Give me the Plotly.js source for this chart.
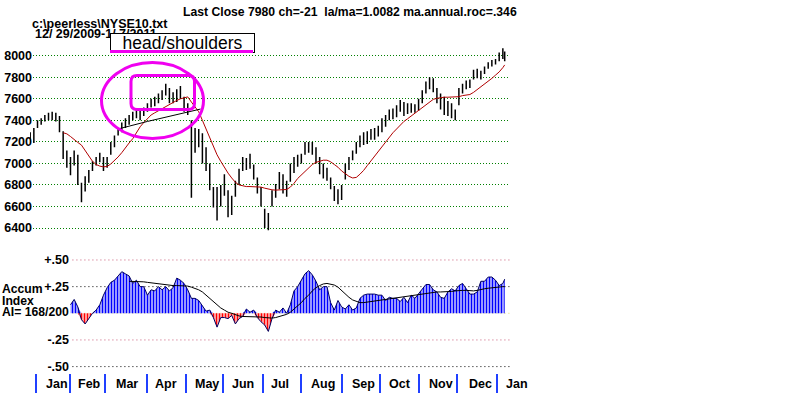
<!DOCTYPE html>
<html><head><meta charset="utf-8">
<script src="https://cdn.plot.ly/plotly-3.0.1.min.js"></script>
<style>html,body{margin:0;padding:0;background:#fff;} #chart{width:798px;height:393px;}</style>
</head><body><div id="chart"></div>
<script>
// ---------- DATA (every 2nd trading day) ----------
const dates = ['2009-12-29','2009-12-31','2010-01-05','2010-01-07','2010-01-11','2010-01-13','2010-01-15','2010-01-20','2010-01-22','2010-01-26',
'2010-01-28','2010-02-01','2010-02-03','2010-02-05','2010-02-09','2010-02-11','2010-02-16','2010-02-18','2010-02-22','2010-02-24',
'2010-02-26','2010-03-02','2010-03-04','2010-03-08','2010-03-10','2010-03-12','2010-03-16','2010-03-18','2010-03-22','2010-03-24',
'2010-03-26','2010-03-30','2010-04-01','2010-04-06','2010-04-08','2010-04-12','2010-04-14','2010-04-16','2010-04-20','2010-04-22',
'2010-04-26','2010-04-28','2010-04-30','2010-05-04','2010-05-06','2010-05-10','2010-05-12','2010-05-14','2010-05-18','2010-05-20',
'2010-05-24','2010-05-26','2010-05-28','2010-06-02','2010-06-04','2010-06-08','2010-06-10','2010-06-14','2010-06-16','2010-06-18',
'2010-06-22','2010-06-24','2010-06-28','2010-06-30','2010-07-02','2010-07-07','2010-07-09','2010-07-13','2010-07-15','2010-07-19',
'2010-07-21','2010-07-23','2010-07-27','2010-07-29','2010-08-02','2010-08-04','2010-08-06','2010-08-10','2010-08-12','2010-08-16',
'2010-08-18','2010-08-20','2010-08-24','2010-08-26','2010-08-30','2010-09-01','2010-09-03','2010-09-08','2010-09-10','2010-09-14',
'2010-09-16','2010-09-20','2010-09-22','2010-09-24','2010-09-28','2010-09-30','2010-10-04','2010-10-06','2010-10-08','2010-10-12',
'2010-10-14','2010-10-18','2010-10-20','2010-10-22','2010-10-26','2010-10-28','2010-11-01','2010-11-03','2010-11-05','2010-11-09',
'2010-11-11','2010-11-15','2010-11-17','2010-11-19','2010-11-23','2010-11-26','2010-11-30','2010-12-02','2010-12-06','2010-12-08',
'2010-12-10','2010-12-14','2010-12-16','2010-12-20','2010-12-22','2010-12-27','2010-12-29','2010-12-31','2011-01-04','2011-01-06',
'2011-01-07'];

const high = [7290,7330,7400,7420,7450,7470,7480,7470,7440,7300,
7120,7060,7120,7080,6820,6880,6940,7020,7060,7100,
7060,7060,7200,7260,7320,7380,7420,7450,7480,7500,
7490,7520,7560,7600,7620,7650,7680,7740,7700,7660,
7690,7720,7620,7560,7400,7330,7320,7280,7150,7000,
6780,6780,6800,6900,6750,6700,6840,6950,7060,7050,
7090,6990,6870,6780,6580,6540,6750,6810,6920,6900,
6840,7000,7060,7080,7090,7200,7200,7200,7150,7060,
7000,6960,6870,6790,6760,6800,7000,7060,7120,7200,
7260,7290,7300,7320,7330,7350,7420,7450,7500,7510,
7540,7590,7570,7560,7560,7550,7600,7680,7760,7800,
7790,7700,7650,7620,7580,7560,7500,7700,7740,7770,
7780,7870,7880,7860,7900,7940,7960,7970,8030,8070,
8040];

const low = [7190,7190,7330,7360,7390,7400,7400,7390,7290,7040,
6960,6890,6980,6800,6640,6740,6820,6930,6980,7010,
6930,6960,7080,7150,7260,7290,7330,7360,7400,7420,
7400,7440,7480,7520,7530,7560,7590,7630,7560,7560,
7570,7600,7480,7450,6680,7100,7150,7000,6930,6750,
6590,6470,6600,6700,6500,6520,6690,6800,6930,6940,
6950,6850,6720,6600,6400,6380,6600,6680,6760,6720,
6690,6830,6910,6970,7000,7080,7100,7080,7000,6900,
6860,6840,6760,6650,6620,6660,6850,6940,7030,7090,
7150,7170,7180,7220,7220,7250,7290,7340,7400,7410,
7430,7480,7440,7460,7470,7470,7490,7560,7650,7690,
7660,7560,7500,7450,7440,7420,7400,7540,7650,7690,
7700,7780,7790,7780,7830,7880,7900,7920,7950,7970,
7950];

const close = [7230,7300,7380,7400,7430,7450,7420,7440,7300,7080,
7000,6920,7080,6830,6760,6850,6900,7000,7040,7050,
6980,7040,7180,7240,7300,7350,7400,7420,7460,7470,
7460,7500,7540,7580,7600,7620,7650,7700,7580,7640,
7660,7620,7500,7470,7000,7280,7200,7050,6980,6800,
6650,6700,6780,6850,6560,6650,6800,6920,7020,7000,
7050,6880,6760,6620,6450,6500,6720,6780,6880,6780,
6800,6960,7040,7060,7070,7180,7180,7150,7020,6940,
6900,6880,6800,6700,6680,6760,6960,7020,7100,7160,
7220,7250,7260,7290,7280,7300,7400,7430,7470,7490,
7500,7560,7500,7520,7540,7520,7560,7650,7720,7760,
7700,7600,7560,7500,7540,7450,7430,7680,7720,7740,
7760,7850,7830,7840,7880,7920,7940,7950,8010,8040,
7980];

const priceMA = [null,null,null,null,null,null,null,null,null,
7285,7275,7250,7220,7195,7170,7120,7060,7020,6990,
6975,6968,6972,6995,7025,7060,7100,7150,7190,7230,
7290,7340,7380,7420,7450,7470,7490,7510,7530,7550,
7570,7585,7600,7612,7618,7570,7520,7480,7400,7320,
7230,7150,7080,7020,6960,6910,6865,6825,6800,6790,
6785,6785,6785,6785,6780,6770,6760,6755,6752,6752,
6755,6758,6780,6815,6860,6895,6925,6960,6990,7010,
7020,7030,7030,7015,6990,6965,6930,6905,6880,6865,
6870,6900,6935,6980,7025,7065,7110,7160,7205,7245,
7285,7320,7360,7390,7415,7440,7465,7490,7515,7540,
7570,7595,7605,7612,7615,7615,7615,7615,7620,7630,
7635,7640,7660,7685,7710,7735,7760,7790,7820,7850,
7890,7915];

// accumulation index, from 2010-02-01 (index 11 of dates) onward
const accum = [0.08,0.13,0.06,-0.06,-0.10,-0.05,0.00,0.03,0.08,0.17,
0.24,0.29,0.31,0.35,0.39,0.37,0.35,0.28,0.31,0.25,
0.25,0.17,0.22,0.21,0.25,0.22,0.25,0.21,0.24,0.33,
0.31,0.28,0.22,0.14,0.14,0.12,0.07,0.02,0.03,-0.04,
-0.13,-0.04,-0.04,-0.05,-0.02,-0.10,-0.05,-0.03,0.04,0.01,
0.03,-0.04,-0.08,-0.11,-0.17,-0.05,0.03,0.01,0.05,0.00,
0.08,0.21,0.25,0.31,0.37,0.40,0.36,0.30,0.22,0.25,
0.25,0.10,0.03,0.12,0.06,0.04,0.08,0.03,0.05,0.14,
0.17,0.18,0.18,0.18,0.17,0.17,0.12,0.15,0.14,0.14,
0.11,0.15,0.10,0.17,0.14,0.18,0.23,0.27,0.27,0.22,
0.20,0.15,0.14,0.20,0.23,0.21,0.26,0.28,0.23,0.18,
0.18,0.20,0.30,0.30,0.34,0.34,0.31,0.26,0.28,0.32];

const accumMA = [null,null,null,null,null,null,null,null,null,null,null,null,null,null,null,null,
0.30,0.30,0.30,0.30,0.295,0.29,0.285,0.28,0.275,0.27,
0.265,0.26,0.26,0.26,0.26,0.26,0.255,0.245,0.235,0.22,
0.20,0.17,0.145,0.115,0.08,0.05,0.03,0.01,0.0,-0.015,
-0.025,-0.03,-0.03,-0.03,-0.03,-0.03,-0.035,-0.04,-0.045,-0.045,
-0.04,-0.03,-0.02,-0.01,0.01,0.04,0.065,0.10,0.14,0.17,
0.21,0.24,0.26,0.275,0.28,0.275,0.265,0.245,0.21,0.18,
0.15,0.125,0.11,0.10,0.10,0.105,0.11,0.12,0.125,0.13,
0.135,0.14,0.145,0.15,0.155,0.16,0.16,0.165,0.17,0.175,
0.18,0.185,0.195,0.20,0.20,0.20,0.20,0.20,0.205,0.21,
0.215,0.215,0.215,0.21,0.21,0.215,0.225,0.23,0.235,0.24,
0.245,0.25,0.25,0.25];

const holidays = ['2010-01-01','2010-01-18','2010-02-15','2010-04-02','2010-05-31','2010-07-05','2010-09-06','2010-11-25','2010-12-24'];
const priceTicks = [6400,6600,6800,7000,7200,7400,7600,7800,8000];
const accumTicks = [0.5,0.25,-0.25,-0.5];
const accumTickText = ['+.50','+.25','-.25','-.50'];
const monthStarts = ['2010-01-04','2010-02-01','2010-03-01','2010-04-01','2010-05-03','2010-06-01','2010-07-01','2010-08-02','2010-09-01','2010-10-01','2010-11-01','2010-12-01','2011-01-03'];
const monthLabels = ['Jan','Feb','Mar','Apr','May','Jun','Jul','Aug','Sep','Oct','Nov','Dec','Jan'];
const monthLabelAt = ['2010-01-20T12:00','2010-02-16T10:00','2010-03-17','2010-04-16','2010-05-18T12:00','2010-06-16','2010-07-15T14:00','2010-08-17T14:00','2010-09-17T19:00','2010-10-15T22:00','2010-11-17','2010-12-17T14:00','2011-01-17T17:00'];
const neckX = ['2010-03-10','2010-04-01','2010-05-13'];
const neckY = [7320,7390,7505];

const titleText = 'Last Close 7980 ch=-21\u00a0 la/ma=1.0082 ma.annual.roc=.346';
const fileText = 'c:\\peerless\\NYSE10.txt';
const spanText = '12/ 29/2009-1/ 7/2011';
const boxText = 'head/shoulders';
const accumText = ['Accum','Index','AI= 168/200'];

// ---------- LAYOUT ----------
const W = 798, H = 393, L = 30, R = 288, T = 44.9, B = 19.9;
const PW = W - L - R, PH = H - T - B;
const px = x => (x - L) / PW;          // page px -> paper x
const py = y => (H - B - y) / PH;      // page px -> paper y
const FONT = 'Liberation Sans, Arial, sans-serif';
const boldFont = {family: FONT, size: 12.5, color: '#000', weight: 'bold'};
const breaks = [{bounds: ['sat', 'mon']}, {values: holidays, dvalue: 86400000}];

const accumDates = dates.slice(11);
const accumPos = accum.map(v => v > 0 ? v : 0);
const accumNeg = accum.map(v => v < 0 ? v : 0);

const traces = [
  {type: 'ohlc', x: dates, open: close, high: high, low: low, close: close, xaxis: 'x', yaxis: 'y',
   increasing: {line: {color: '#000', width: 1.5}}, decreasing: {line: {color: '#000', width: 1.5}},
   tickwidth: 0.35, hoverinfo: 'skip'},
  {type: 'scatter', mode: 'lines', x: dates, y: priceMA, xaxis: 'x', yaxis: 'y',
   line: {color: '#b00000', width: 1}, hoverinfo: 'skip'},
  {type: 'scatter', mode: 'lines', x: neckX, y: neckY, xaxis: 'x', yaxis: 'y',
   line: {color: '#000', width: 1}, hoverinfo: 'skip'},
  {type: 'scatter', mode: 'lines', x: accumDates, y: accumPos, xaxis: 'x2', yaxis: 'y2',
   fill: 'tozeroy', fillcolor: 'rgba(0,0,0,0)', line: {width: 0},
   fillpattern: {shape: '|', fgcolor: '#0000ff', bgcolor: '#ffffff', size: 3, solidity: 0.6}, hoverinfo: 'skip'},
  {type: 'scatter', mode: 'lines', x: accumDates, y: accumNeg, xaxis: 'x2', yaxis: 'y2',
   fill: 'tozeroy', fillcolor: 'rgba(0,0,0,0)', line: {width: 0},
   fillpattern: {shape: '|', fgcolor: '#ff0000', bgcolor: '#ffffff', size: 3, solidity: 0.6}, hoverinfo: 'skip'},
  {type: 'scatter', mode: 'lines', x: accumDates, y: accum, xaxis: 'x2', yaxis: 'y2',
   line: {color: '#000060', width: 1}, hoverinfo: 'skip'},
  {type: 'scatter', mode: 'lines', x: accumDates, y: accumMA, xaxis: 'x2', yaxis: 'y2',
   line: {color: '#000', width: 1}, hoverinfo: 'skip'}
];

const xEnd = '2011-01-11T21:36:00';
const shapes = [];
const gridDefs = [[0.5, '#c85a78'], [0.25, '#000000'], [0, '#e0d870'], [-0.25, '#c85a78'], [-0.5, '#000000']];
gridDefs.forEach(([v, c]) => shapes.push({type: 'line', xref: 'x2 domain', yref: 'y2', x0: 0.01, x1: 1, y0: v, y1: v,
  line: {color: c, width: 1, dash: '1px,3px'}, layer: 'below'}));
// magenta ellipse
shapes.push({type: 'circle', xref: 'paper', yref: 'paper', x0: px(101.5), x1: px(203.5), y0: py(138.5), y1: py(62.5),
  line: {color: '#f000f0', width: 3}, layer: 'above'});
// magenta rounded rectangle
(function () {
  const xa = px(131), xb = px(194.5), ya = py(75.5), yb = py(109.5), rx = 6 / PW, ry = 6 / PH;
  const p = `M ${xa + rx},${ya} L ${xb - rx},${ya} Q ${xb},${ya} ${xb},${ya - ry} L ${xb},${yb + ry} Q ${xb},${yb} ${xb - rx},${yb} ` +
            `L ${xa + rx},${yb} Q ${xa},${yb} ${xa},${yb + ry} L ${xa},${ya - ry} Q ${xa},${ya} ${xa + rx},${ya} Z`;
  shapes.push({type: 'path', xref: 'paper', yref: 'paper', path: p, line: {color: '#f000f0', width: 3}, layer: 'above'});
})();

const ann = [];
const txt = (text, x, y, opts) => Object.assign({text, x, y, xref: 'paper', yref: 'paper', showarrow: false,
  xanchor: 'left', yanchor: 'middle', font: boldFont}, opts || {});
ann.push(txt(titleText, px(181), py(12.3), {font: Object.assign({}, boldFont, {size: 12.2})}));
ann.push(txt(fileText, px(29.5), py(24.0)));
ann.push(txt(spanText, px(33), py(33.8)));
ann.push({text: boxText, xref: 'paper', yref: 'paper', x: px(182.5), y: py(43.3), xanchor: 'center', yanchor: 'middle',
  showarrow: false, width: 143, height: 17.5, borderpad: 0, borderwidth: 1, bordercolor: '#000', bgcolor: '#fff',
  font: {family: FONT, size: 17.5, color: '#000'}});
ann.push({text: '\u00a0', xref: 'paper', yref: 'paper', x: px(181.5), y: py(51.7), xanchor: 'center', yanchor: 'middle',
  showarrow: false, width: 143, height: 3, borderpad: 0, borderwidth: 0, bgcolor: '#f000f0', font: {size: 1}});
const sideFont = Object.assign({}, boldFont, {size: 12.2});
ann.push(txt(accumText[0], px(0), py(289), {font: sideFont}));
ann.push(txt(accumText[1], px(0), py(301.3), {font: sideFont}));
ann.push(txt(accumText[2], px(0), py(312.5), {font: sideFont}));
monthLabels.forEach((m, i) => {
  const last = i === monthLabels.length - 1;
  ann.push({text: m, x: last ? px(517) : monthLabelAt[i], xref: last ? 'paper' : 'x', y: py(384), yref: 'paper',
    showarrow: false, xanchor: 'center', yanchor: 'middle', font: boldFont});
});

const layout = {
  width: W, height: H, margin: {l: L, r: R, t: T, b: B, pad: 0},
  paper_bgcolor: '#fff', plot_bgcolor: '#fff', showlegend: false, hovermode: false,
  xaxis: {type: 'date', domain: [0, 1], range: ['2009-12-28T21:36:00', xEnd], rangebreaks: breaks,
    anchor: 'free', position: 0, showgrid: false, zeroline: false, showline: false,
    ticks: 'outside', ticklen: 20, tickwidth: 2, tickcolor: '#2040ff', tickmode: 'array', tickvals: monthStarts,
    showticklabels: false, rangeslider: {visible: false}, fixedrange: true},
  yaxis: {domain: [py(238.8), 1], range: [6300, 8100], anchor: 'x', tickmode: 'array', tickvals: priceTicks,
    showgrid: true, gridcolor: '#008000', griddash: '1px,2px', gridwidth: 1, zeroline: false, showline: false,
    ticks: '', tickfont: boldFont, ticklabelstandoff: -3, fixedrange: true},
  xaxis2: {type: 'date', domain: [px(68), 1], range: ['2010-01-28T15:21:36', xEnd], rangebreaks: breaks,
    anchor: 'y2', showgrid: false, zeroline: false, showline: false, ticks: '', showticklabels: false,
    rangeslider: {visible: false}, fixedrange: true},
  yaxis2: {domain: [0, py(253.6)], range: [-0.56, 0.56], anchor: 'x2', tickmode: 'array', tickvals: accumTicks,
    ticktext: accumTickText, showgrid: false, zeroline: false, showline: false, ticks: '', tickfont: boldFont,
    ticklabelstandoff: -2, fixedrange: true},
  shapes: shapes,
  annotations: ann
};

Plotly.newPlot('chart', traces, layout, {staticPlot: true, displayModeBar: false});
</script>
</body></html>
